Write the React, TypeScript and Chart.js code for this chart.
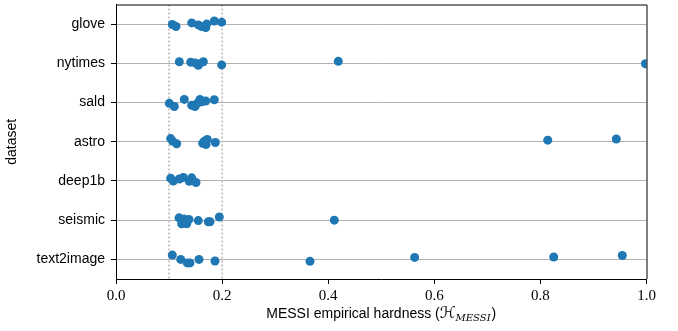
import React, { useEffect, useRef } from "react";
import { Chart, registerables } from "chart.js";

Chart.register(...registerables);

const categories = ["glove", "nytimes", "sald", "astro", "deep1b", "seismic", "text2image"];
const xTicks = [0, 0.2, 0.4, 0.6, 0.8, 1.0];
const thresholds = [0.1, 0.2];

const gloveValues = [0.1061, 0.1131, 0.1427, 0.1551, 0.1615, 0.1691, 0.171, 0.1853, 0.1992];
const gloveJitter = [0.01, 0.06, -0.03, 0.02, 0.06, 0.09, 0, -0.08, -0.05];
const nytimesValues = [0.1193, 0.1408, 0.1489, 0.1551, 0.157, 0.1646, 0.1992, 0.419, 0.998];
const nytimesJitter = [-0.04, -0.03, -0.01, 0.05, 0.01, -0.04, 0.04, -0.05, 0.01];
const saldValues = [0.1005, 0.1099, 0.1287, 0.1427, 0.1489, 0.1533, 0.1583, 0.1615, 0.1691, 0.1853];
const saldJitter = [0.02, 0.1, -0.08, 0.07, 0.1, 0.02, -0.08, -0.02, -0.04, -0.07];
const astroValues = [0.1031, 0.1069, 0.1144, 0.1634, 0.1664, 0.1697, 0.1721, 0.1872, 0.8138, 0.9431];
const astroJitter = [-0.08, -0.01, 0.05, 0.04, -0.01, 0.07, -0.06, 0.02, -0.04, -0.07];
const deep1bValues = [0.1031, 0.108, 0.1193, 0.1269, 0.1382, 0.1427, 0.1508];
const deep1bJitter = [-0.07, 0, -0.05, -0.09, 0.01, -0.08, 0.04];
const seismicValues = [0.1188, 0.1238, 0.1282, 0.1333, 0.1376, 0.1551, 0.174, 0.1772, 0.1947, 0.4115];
const seismicJitter = [-0.06, 0.09, -0.03, 0.09, -0.02, 0.01, 0.04, 0.04, -0.08, 0];
const text2imageValues = [0.1061, 0.122, 0.1344, 0.1395, 0.1565, 0.1866, 0.3657, 0.563, 0.8251, 0.9544];
const text2imageJitter = [-0.11, 0, 0.09, 0.09, 0, 0.04, 0.05, -0.05, -0.06, -0.1];

const seriesValues = [gloveValues, nytimesValues, saldValues, astroValues, deep1bValues, seismicValues, text2imageValues];
const seriesJitter = [gloveJitter, nytimesJitter, saldJitter, astroJitter, deep1bJitter, seismicJitter, text2imageJitter];

const POINT_COLOR = "#1f77b4";
const SANS = '"Liberation Sans", Arial, sans-serif';
const SERIF = '"Liberation Serif", "DejaVu Serif", serif';

const framePlugin = {
  id: "frameAndTitle",
  afterDraw(chart: any) {
    const { ctx, chartArea } = chart;
    const { left, right, top, bottom } = chartArea;
    ctx.save();
    ctx.strokeStyle = "#000";
    ctx.lineWidth = 1;
    ctx.beginPath();
    ctx.moveTo(left, top + 0.5);
    ctx.lineTo(right + 0.5, top + 0.5);
    ctx.lineTo(right + 0.5, bottom);
    ctx.stroke();

    // x-axis title with subscript
    const parts = [
      { text: "MESSI empirical hardness (", font: `14px ${SANS}`, dy: 0 },
      { text: "\u210B", font: `italic 16px "DejaVu Serif", "DejaVu Sans", serif`, dy: 0 },
      { text: "MESSI", font: `italic 10px "DejaVu Serif", serif`, dy: 3 },
      { text: ")", font: `14px ${SANS}`, dy: 0 },
    ];
    let total = 0;
    const widths = parts.map((p) => {
      ctx.font = p.font;
      const w = ctx.measureText(p.text).width + (p.text === "MESSI" ? 1 : 0);
      total += w;
      return w;
    });
    let x = (left + right) / 2 - total / 2;
    const baseY = bottom + 39;
    ctx.fillStyle = "#000";
    ctx.textBaseline = "alphabetic";
    ctx.textAlign = "left";
    parts.forEach((p, i) => {
      ctx.font = p.font;
      ctx.fillText(p.text, x, baseY + p.dy);
      x += widths[i];
    });
    ctx.restore();
  },
};

export default function App() {
  const canvasRef = useRef<HTMLCanvasElement | null>(null);

  useEffect(() => {
    if (!canvasRef.current) return;
    const pointSets = categories.map((cat, ci) => ({
      type: "scatter" as const,
      label: cat,
      data: seriesValues[ci].map((v, i) => ({ x: v, y: ci + seriesJitter[ci][i] })),
      backgroundColor: POINT_COLOR,
      borderColor: POINT_COLOR,
      borderWidth: 0,
      pointRadius: 4.5,
      pointHoverRadius: 4.5,
      order: 0,
      clip: 0,
    }));
    const lineSets = thresholds.map((t) => ({
      type: "line" as const,
      label: "t" + t,
      data: [
        { x: t, y: -0.5 },
        { x: t, y: categories.length - 0.5 },
      ],
      borderColor: "#c8c8c8",
      borderWidth: 2,
      borderDash: [2, 2],
      pointRadius: 0,
      fill: false,
      order: 1,
      clip: 0,
    }));

    const chart = new Chart(canvasRef.current, {
      type: "scatter",
      data: { datasets: [...lineSets, ...pointSets] as any },
      plugins: [framePlugin],
      options: {
        animation: false,
        responsive: false,
        layout: { padding: { top: 2, right: 31.5, left: 0, bottom: 0 } },
        plugins: { legend: { display: false }, tooltip: { enabled: false } },
        scales: {
          x: {
            type: "linear",
            min: 0,
            max: 1,
            afterFit: (s: any) => {
              s.height = 52;
              s.paddingLeft = 0;
              s.paddingRight = 0;
            },
            afterBuildTicks: (s: any) => {
              s.ticks = xTicks.map((v) => ({ value: v }));
            },
            ticks: {
              color: "#000",
              font: { family: SERIF, size: 15 },
              padding: 3,
              maxRotation: 0,
              callback: (v: any) => Number(v).toFixed(1),
            },
            grid: {
              drawOnChartArea: false,
              drawTicks: true,
              tickLength: 5,
              tickColor: "#000",
              tickWidth: 1,
            },
            border: { display: true, color: "#000", width: 1 },
          },
          y: {
            type: "linear",
            reverse: true,
            min: -0.5,
            max: categories.length - 0.5,
            afterFit: (s: any) => {
              s.width = 116;
              s.paddingTop = 0;
              s.paddingBottom = 0;
            },
            afterBuildTicks: (s: any) => {
              s.ticks = categories.map((_, i) => ({ value: i }));
            },
            ticks: {
              color: "#000",
              font: { family: SANS, size: 14 },
              padding: 6,
              autoSkip: false,
              callback: (v: any) => categories[Math.round(Number(v))] ?? "",
            },
            grid: {
              display: true,
              color: "#b0b0b0",
              lineWidth: 1,
              drawTicks: true,
              tickLength: 5,
              tickColor: "#000",
              tickWidth: 1,
            },
            border: { display: true, color: "#000", width: 1 },
            title: {
              display: true,
              text: "dataset",
              color: "#000",
              font: { family: SANS, size: 14 },
              padding: { top: 4, bottom: 0 },
            },
          },
        },
      } as any,
    });
    return () => chart.destroy();
  }, []);

  return (
    <div style={{ position: "absolute", left: 0, top: 0, width: 678, height: 331, background: "#fff" }}>
      <canvas ref={canvasRef} width={678} height={331} style={{ display: "block" }} />
    </div>
  );
}
